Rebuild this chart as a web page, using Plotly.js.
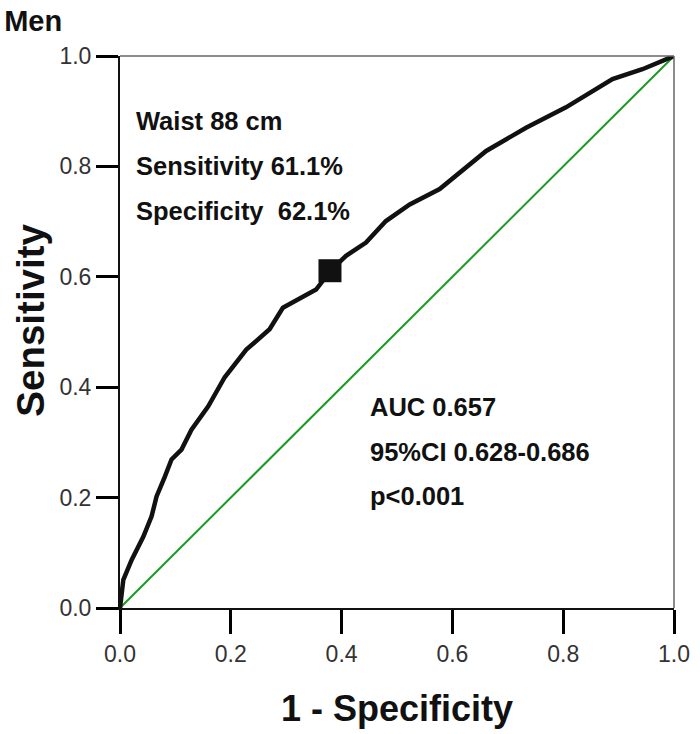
<!DOCTYPE html>
<html>
<head>
<meta charset="utf-8">
<script src="https://cdn.plot.ly/plotly-3.0.1.min.js"></script>
<style>html,body{margin:0;padding:0;background:#fff;}#chart{width:700px;height:734px;}</style>
</head>
<body>
<div id="chart"></div>
<script>
// ROC curve (1 - specificity, sensitivity)
const rocX = [0, 0.006, 0.021, 0.042, 0.057, 0.066, 0.081, 0.093, 0.111, 0.129, 0.159, 0.189, 0.228, 0.270, 0.294, 0.354, 0.380, 0.408, 0.444, 0.480, 0.523, 0.577, 0.661, 0.733, 0.805, 0.889, 0.943, 1.0];
const rocY = [0, 0.051, 0.087, 0.129, 0.166, 0.202, 0.238, 0.269, 0.287, 0.323, 0.365, 0.418, 0.468, 0.505, 0.544, 0.577, 0.611, 0.638, 0.662, 0.701, 0.731, 0.759, 0.828, 0.870, 0.907, 0.958, 0.976, 1.0];
// reference diagonal
const refX = [0, 1];
const refY = [0, 1];
// cut-off point (waist 88 cm)
const cutX = [0.379];
const cutY = [0.611];
const axisRange = [0, 1];
const tickVals = [0, 0.2, 0.4, 0.6, 0.8, 1.0];
const tickText = ["0.0", "0.2", "0.4", "0.6", "0.8", "1.0"];
const infoLeft = ["Waist 88 cm", "Sensitivity 61.1%", "Specificity  62.1%"];
const infoRight = ["AUC 0.657", "95%CI 0.628-0.686", "p<0.001"];
const infoLeftY = [0.882, 0.800, 0.720];
const infoRightY = [0.365, 0.283, 0.203];

const FONT = "Liberation Sans, Arial, sans-serif";
const W = 700, H = 734, M = {l: 120, r: 26, t: 56, b: 126};
const plotW = W - M.l - M.r, plotH = H - M.t - M.b;
const span = axisRange[1] - axisRange[0];
const xTickLen = 24, yTickLen = 22;

// tick marks as unclipped line-shaped markers centred half a tick length outside the axes
const xTickMarks = {x: tickVals, y: tickVals.map(() => axisRange[0] - xTickLen / 2 / plotH * span), mode: "markers", cliponaxis: false, hoverinfo: "skip",
  marker: {symbol: "line-ns", size: xTickLen, color: "#111", line: {width: 2.5, color: "#111"}}};
const yTickMarks = {x: tickVals.map(() => axisRange[0] - yTickLen / 2 / plotW * span), y: tickVals, mode: "markers", cliponaxis: false, hoverinfo: "skip",
  marker: {symbol: "line-ew", size: yTickLen, color: "#111", line: {width: 2.5, color: "#111"}}};

const traces = [
  {x: refX, y: refY, mode: "lines", line: {color: "#1a9a22", width: 2}, hoverinfo: "skip"},
  {x: rocX, y: rocY, mode: "lines", line: {color: "#111", width: 4.5}, hoverinfo: "skip"},
  {x: cutX, y: cutY, mode: "markers", marker: {symbol: "square", size: 23, color: "#111"}, hoverinfo: "skip"},
  xTickMarks, yTickMarks
];

const annotations = [];
infoLeft.forEach((t, i) => annotations.push({x: 0.026, y: infoLeftY[i], xref: "x", yref: "y", text: "<b>" + t + "</b>", showarrow: false, xanchor: "left", yanchor: "middle", font: {family: FONT, size: 25.5, color: "#111"}}));
infoRight.forEach((t, i) => annotations.push({x: 0.448, y: infoRightY[i], xref: "x", yref: "y", text: "<b>" + t + "</b>", showarrow: false, xanchor: "left", yanchor: "middle", font: {family: FONT, size: 25.5, color: "#111"}}));
// y-axis title (placed slightly above the plot centre, as in the reference)
annotations.push({x: -0.162, y: 0.521, xref: "paper", yref: "paper", text: "<b>Sensitivity</b>", textangle: -90, showarrow: false, xanchor: "center", yanchor: "middle", font: {family: FONT, size: 38.5, color: "#111"}});

const shapes = [
  {type: "line", xref: "paper", yref: "paper", x0: 0, x1: 1, y0: 1, y1: 1, line: {color: "#666", width: 1.5}},
  {type: "line", xref: "paper", yref: "paper", x0: 1, x1: 1, y0: 0, y1: 1, line: {color: "#666", width: 1.5}}
];

const layout = {
  width: W, height: H,
  margin: M,
  paper_bgcolor: "#fff", plot_bgcolor: "#fff",
  showlegend: false,
  title: {text: "<b>Men</b>", x: 0.006, xanchor: "left", xref: "container", y: 0.972, yanchor: "middle", yref: "container", font: {family: FONT, size: 29, color: "#111"}},
  xaxis: {
    range: axisRange, showgrid: false, zeroline: false,
    showline: true, linecolor: "#111", linewidth: 2,
    tickmode: "array", tickvals: tickVals, ticktext: tickText,
    ticks: "outside", ticklen: xTickLen, tickwidth: 2.5, tickcolor: "#000",
    tickfont: {family: FONT, size: 23, color: "#333"},
    title: {text: "<b>1 - Specificity</b>", standoff: 30, font: {family: FONT, size: 36, color: "#111"}},
    automargin: false
  },
  yaxis: {
    range: axisRange, showgrid: false, zeroline: false,
    showline: true, linecolor: "#111", linewidth: 2,
    tickmode: "array", tickvals: tickVals, ticktext: tickText,
    ticks: "outside", ticklen: yTickLen, tickwidth: 2.5, tickcolor: "#000",
    tickfont: {family: FONT, size: 23, color: "#333"},
    automargin: false
  },
  shapes: shapes,
  annotations: annotations
};

Plotly.newPlot("chart", traces, layout, {displayModeBar: false});
</script>
</body>
</html>
